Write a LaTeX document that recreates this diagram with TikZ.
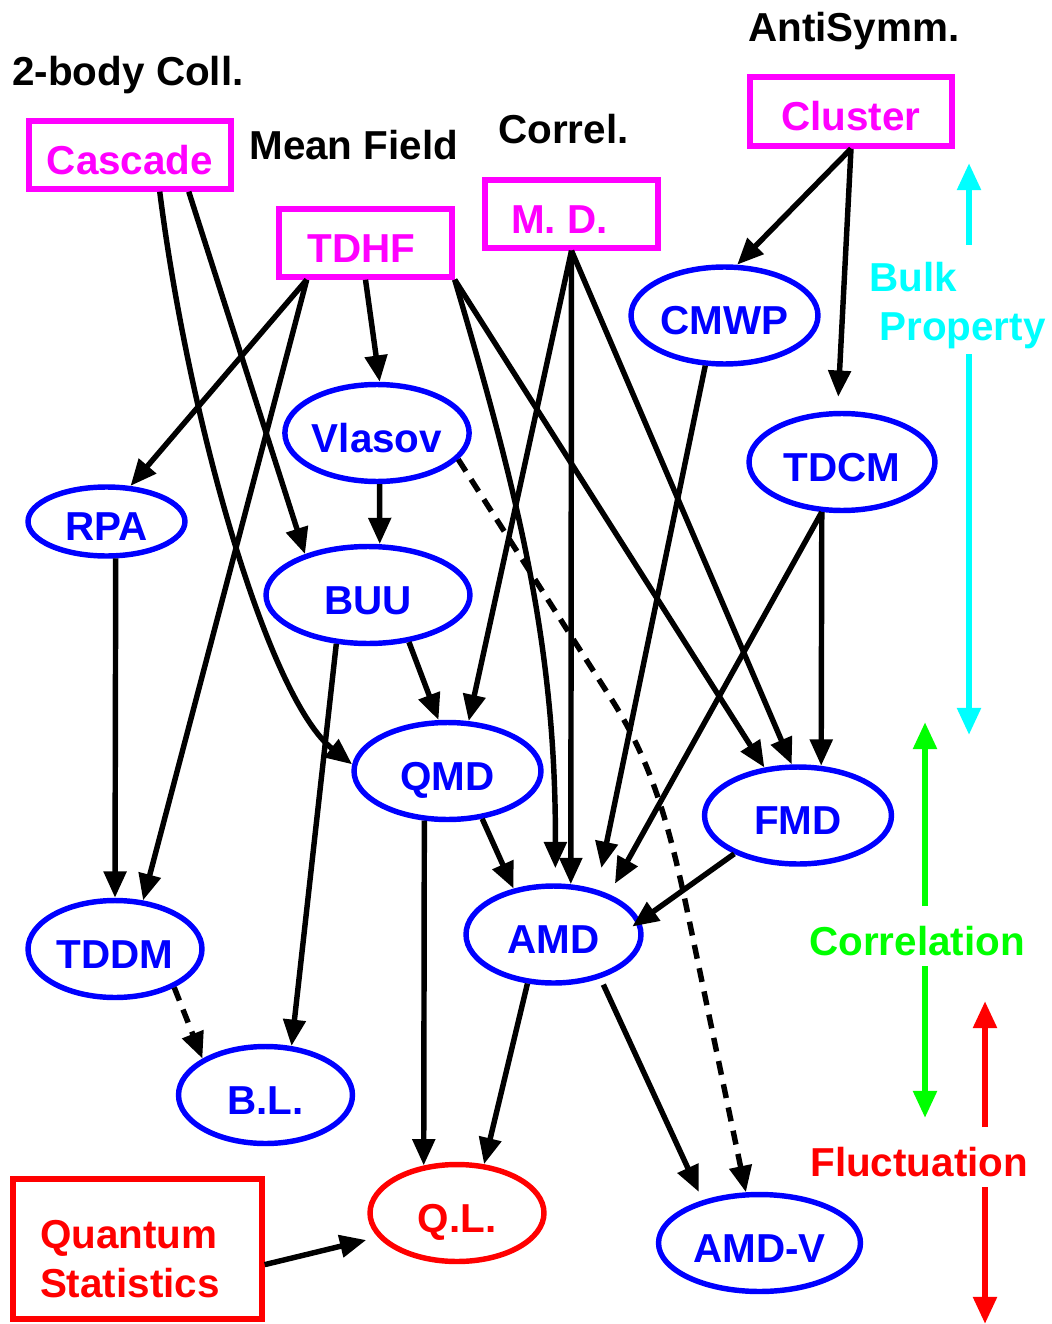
\documentclass[tikz,border=0pt]{standalone}
\usepackage{fontspec}
\setmainfont{Liberation Sans}
\usetikzlibrary{shapes.geometric, arrows.meta}

\definecolor{mag}{RGB}{255,0,255}
\definecolor{cyn}{RGB}{0,255,255}
\definecolor{grn}{RGB}{0,255,0}
\definecolor{rd}{RGB}{255,0,0}
\definecolor{bl}{RGB}{0,0,255}

\tikzset{
  big/.style={font=\fontsize{23}{27.6}\selectfont\bfseries},
  hdr/.style={big, anchor=base west, inner sep=0pt},
  src/.style={big, draw=mag, text=mag, line width=3.1pt, inner sep=0pt,
    minimum height=1.36cm, text height=22pt, text depth=0pt},
  mdl/.style={big, ellipse, draw=bl, text=bl, line width=3.1pt, inner sep=0pt,
    minimum height=1.94cm, text height=22pt, text depth=0pt},
  arr/.style={line width=3.1pt, -{Triangle[length=15pt,width=12.5pt]}},
  dsh/.style={arr, dash pattern=on 8pt off 5.5pt},
  sidearr/.style={line width=3.5pt, -{Triangle[length=15.5pt,width=13pt]}},
}

\begin{document}
\begin{tikzpicture}[x=0.02cm, y=-0.02cm]
    \useasboundingbox (0,0) rectangle (1051,1324);

    \node[hdr] (hColl) at (12,86) {2-body Coll.};
    \node[hdr] (hMF) at (249,160) {Mean Field};
    \node[hdr] (hCor) at (498,144) {Correl.};
    \node[hdr] (hAS) at (748,42) {AntiSymm.};

    \node[src, minimum width=4.04cm] (Cas) at (130,155) {Cascade};
    \node[src, minimum width=3.46cm] (TDHF) at (365.5,243) {TDHF\rule{0.16cm}{0pt}};
    \node[src, minimum width=3.46cm] (MD) at (571.5,214) {M. D.\rule{0.48cm}{0pt}};
    \node[src, minimum width=4.04cm, minimum height=1.38cm] (Clu) at (851,111.5) {Cluster};

    \node[mdl, minimum width=3.74cm] (CMWP) at (724.5,315.5) {CMWP};
    \node[mdl, minimum width=3.72cm] (TDCM) at (842,462) {TDCM};
    \node[mdl, minimum width=3.48cm] (Vlasov) at (377,433) {Vlasov};
    \node[mdl, minimum width=3.14cm, minimum height=1.38cm] (RPA) at (106.5,521.5) {RPA};
    \node[mdl, minimum width=4.08cm] (BUU) at (368,595) {BUU};
    \node[mdl, minimum width=3.74cm] (QMD) at (447.5,771) {QMD};
    \node[mdl, minimum width=3.74cm] (FMD) at (798,815.5) {FMD};
    \node[mdl, minimum width=3.5cm] (AMD) at (553.5,934.5) {AMD};
    \node[mdl, minimum width=3.48cm] (TDDM) at (115,949) {TDDM};
    \node[mdl, minimum width=3.48cm] (BL) at (265.5,1095) {B.L.};
    \node[mdl, minimum width=3.48cm, draw=rd, text=rd] (QL) at (457,1213) {Q.L.};
    \node[mdl, minimum width=4.04cm] (AMDV) at (759.5,1243) {AMD-V};

    \node[big, draw=rd, text=rd, line width=3.1pt, inner sep=0pt,
      minimum width=4.98cm, minimum height=2.8cm, text width=3.9cm, align=left]
    (QS) at (137.5,1249) {\rule{0pt}{1.2em}Quantum\\Statistics};

    \draw[arr] (Clu.south) -- (CMWP.76);
    \draw[arr, shorten >=0.28cm] (Clu.south) -- (TDCM.95);

    \draw[arr] (Cas.-51) .. controls (190,430) and (270,700) .. (QMD.176);
    \draw[arr] (Cas.-32) -- (BUU.147);

    \draw[arr] (TDHF.-148) -- (RPA.56);
    \draw[arr] (TDHF.-148) -- (TDDM.60);
    \draw[arr] (TDHF.south) -- (Vlasov.87);
    \draw[arr, shorten >=0.3cm] (TDHF.south east) .. controls (520,500) and (556,650) .. (AMD.88);
    \draw[arr] (TDHF.south east) -- (FMD.125);

    \draw[arr] (MD.south) -- (QMD.67);
    \draw[arr] (MD.south) -- (AMD.71);
    \draw[arr] (MD.south) -- (FMD.97);

    \draw[arr, shorten >=0.44cm] (CMWP.-111) -- (AMD.46);
    \draw[arr, shorten >=0.24cm] (TDCM.-112) -- (AMD.36);
    \draw[arr] (TDCM.-112) -- (FMD.65);

    \draw[arr] (Vlasov.-87) -- (BUU.77);
    \draw[dsh] (Vlasov.-18) -- (612,700) .. controls (650,760) and (668,820) .. (686,905) -- (AMDV.105);

    \draw[arr] (BUU.-49) -- (QMD.100);
    \draw[arr] (BUU.-123) -- (BL.62);
    \draw[arr] (QMD.-54) -- (AMD.131);
    \draw[arr] (QMD.-115) -- (QL.125);
    \draw[arr, shorten >=-0.2cm] (FMD.-149) -- (AMD.9);
    \draw[arr] (AMD.-118) -- (QL.61);
    \draw[arr, shorten <=0.14cm, shorten >=0.18cm] (AMD.-43) -- (AMDV.143);

    \draw[arr] (RPA.-76) -- (TDDM.north);
    \draw[dsh] (TDDM.-33) -- (BL.150);
    \draw[arr, shorten >=0.24cm] (QS.-7) -- (QL.-163);

    \node[hdr, text=cyn] (bulk) at (869,292) {Bulk};
    \node[hdr, text=cyn] (prop) at (879,340) {Property};
    \coordinate (cyTop) at (969,163);
    \coordinate (cyA) at (969,245);
    \coordinate (cyB) at (969,354);
    \coordinate (cyBot) at (969,735);
    \draw[sidearr, cyn] (cyA) -- (cyTop);
    \draw[sidearr, cyn] (cyB) -- (cyBot);

    \node[hdr, text=grn] (corr) at (809,955) {Correlation};
    \coordinate (grTop) at (925,722);
    \coordinate (grA) at (925,906);
    \coordinate (grB) at (925,966);
    \coordinate (grBot) at (925,1118);
    \draw[sidearr, grn] (grA) -- (grTop);
    \draw[sidearr, grn] (grB) -- (grBot);

    \node[hdr, text=rd] (fluc) at (810,1176) {Fluctuation};
    \coordinate (rdTop) at (985,1001);
    \coordinate (rdA) at (985,1127);
    \coordinate (rdB) at (985,1187);
    \coordinate (rdBot) at (985,1324);
    \draw[sidearr, rd] (rdA) -- (rdTop);
    \draw[sidearr, rd] (rdB) -- (rdBot);
  \end{tikzpicture}
\end{document}
